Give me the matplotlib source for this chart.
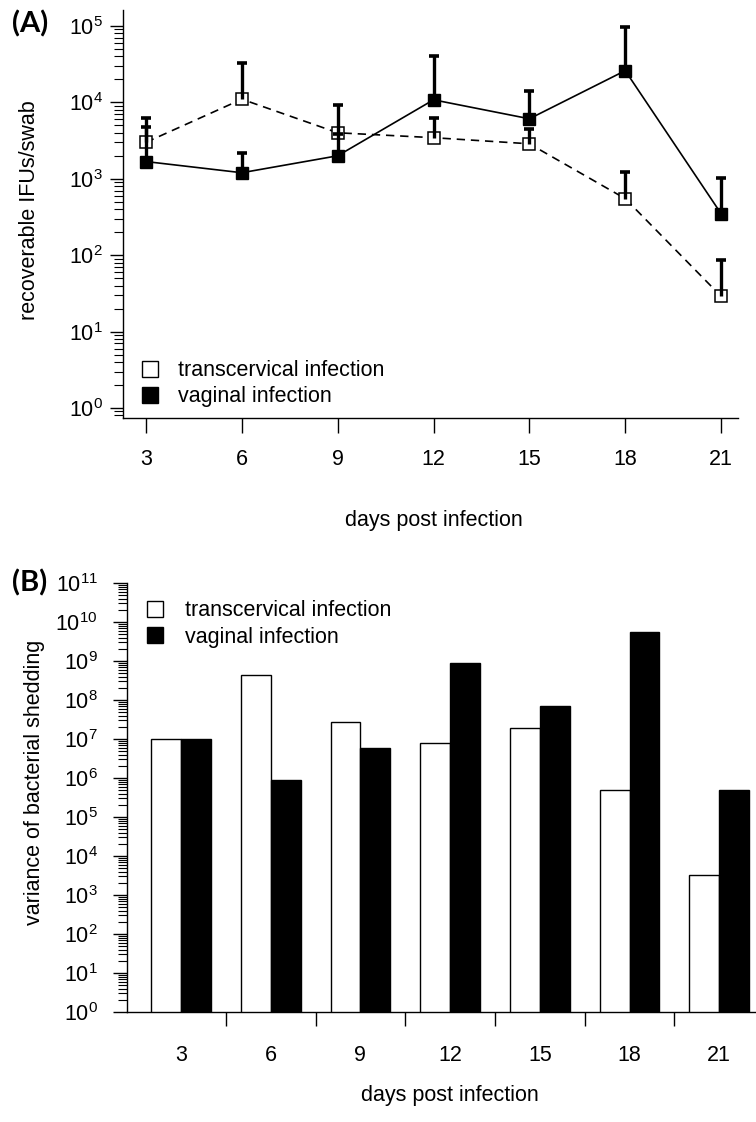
import numpy as np
import matplotlib.pyplot as plt
from matplotlib.lines import Line2D
from matplotlib.ticker import LogLocator, FuncFormatter, NullFormatter

plt.rcParams['font.family'] = ['Liberation Sans', 'DejaVu Sans']
plt.rcParams['mathtext.default'] = 'regular'

days = [3, 6, 9, 12, 15, 18, 21]
labels = ["transcervical infection", "vaginal infection"]

# (A) recoverable IFUs/swab: mean and top of the error bar
tc_mean = [3000, 11000, 4000, 3450, 2870, 550, 29]
tc_upper = [6300, 33000, 9300, 6300, 4500, 1240, 86]
vag_mean = [1680, 1200, 2000, 10800, 6100, 26000, 350]
vag_upper = [4800, 2200, 3800, 40000, 14100, 98000, 1030]

# (B) variance of bacterial shedding
tc_var = [1.0e7, 4.4e8, 2.7e7, 7.9e6, 1.9e7, 4.9e5, 3.2e3]
vag_var = [1.0e7, 9.0e5, 5.8e6, 8.9e8, 7.0e7, 5.5e9, 4.9e5]

FS = 15.5
pow_fmt = FuncFormatter(lambda v, p: r'$10^{%d}$' % round(np.log10(v)))


def log_yaxis(ax, lo, hi, major_len, minor_len, pad):
    ax.set_yscale('log')
    ax.yaxis.set_major_locator(LogLocator(base=10, numticks=20))
    ax.yaxis.set_minor_locator(LogLocator(base=10, subs=np.arange(2, 10), numticks=20))
    ax.yaxis.set_major_formatter(pow_fmt)
    ax.yaxis.set_minor_formatter(NullFormatter())
    ax.set_ylim(lo, hi)
    ax.tick_params(axis='y', which='major', length=major_len, width=1, pad=pad, labelsize=FS)
    ax.tick_params(axis='y', which='minor', length=minor_len, width=0.8)
    for s in ['top', 'right']:
        ax.spines[s].set_visible(False)
    for s in ['left', 'bottom']:
        ax.spines[s].set_linewidth(1)


fig = plt.figure(figsize=(7.56, 11.22), dpi=100)

# ---------------- (A) ----------------
axA = fig.add_axes([123 / 756, 1 - 418 / 1122, 615 / 756, 408 / 1122])
log_yaxis(axA, 10 ** -0.131, 10 ** 5.209, 9.5, 6.5, 5)

axA.plot(days, tc_mean, color='black', lw=1.2, dashes=(5, 3.5), zorder=2)
axA.plot(days, tc_mean, ls='none', marker='s', ms=8.5, mfc='white', mec='black', mew=1.1, zorder=3)
axA.plot(days, vag_mean, color='black', lw=1.2, zorder=2)
axA.plot(days, vag_mean, ls='none', marker='s', ms=8.5, mfc='black', mec='black', zorder=3)

for mean, upper in [(tc_mean, tc_upper), (vag_mean, vag_upper)]:
    axA.vlines(days, mean, upper, color='black', lw=2.4, zorder=4)
    axA.plot(days, upper, ls='none', marker='_', ms=7, mew=2.6, color='black', zorder=4)

axA.set_xlim(2.28, 21.53)
axA.set_xticks(days)
axA.tick_params(axis='x', length=10.5, width=1, pad=12, labelsize=FS)
axA.set_xlabel("days post infection", fontsize=FS)
axA.xaxis.set_label_coords(0.505, -0.225)
axA.set_ylabel("recoverable IFUs/swab", fontsize=FS)
axA.yaxis.set_label_coords(-0.135, 0.51)

hA = [Line2D([], [], ls='none', marker='s', ms=11, mfc='white', mec='black', mew=1),
      Line2D([], [], ls='none', marker='s', ms=11, mfc='black', mec='black', mew=1)]
axA.legend(hA, labels, loc='upper left', bbox_to_anchor=(0.026, 0.142), frameon=False,
           fontsize=FS, handlelength=1.0, handletextpad=0.8, borderpad=0, borderaxespad=0,
           labelspacing=0.25)

fig.text(12 / 756, 1 - 24 / 1122, "(A)", fontsize=21, fontweight='bold', family='Lato',
         ha='left', va='center')

# ---------------- (B) ----------------
axB = fig.add_axes([127 / 756, 1 - 1012 / 1122, 629 / 756, 429 / 1122])
log_yaxis(axB, 1, 1e11, 10, 6.5, 11)

centers = np.arange(len(days)) * 3.0
axB.bar(centers - 0.5, tc_var, width=1, bottom=0, color='white', edgecolor='black', lw=1, zorder=2)
axB.bar(centers + 0.5, vag_var, width=1, bottom=0, color='black', edgecolor='black', lw=1, zorder=2)

axB.set_xlim(-1.806, 19.23)
axB.set_xticks(centers)
axB.set_xticklabels([str(d) for d in days])
axB.set_xticks(centers[:-1] + 1.5, minor=True)
axB.tick_params(axis='x', which='major', length=0, pad=24, labelsize=FS)
axB.tick_params(axis='x', which='minor', length=10, width=1)
axB.set_xlabel("days post infection", fontsize=FS)
axB.xaxis.set_label_coords(0.5135, -0.170)
axB.set_ylabel("variance of bacterial shedding", fontsize=FS)
axB.yaxis.set_label_coords(-0.130, 0.536)

hB = [Line2D([], [], ls='none', marker='s', ms=11, mfc='white', mec='black', mew=1),
      Line2D([], [], ls='none', marker='s', ms=11, mfc='black', mec='black', mew=1)]
axB.legend(hB, labels, loc='upper left', bbox_to_anchor=(0.027, 0.960), frameon=False,
           fontsize=FS, handlelength=1.0, handletextpad=0.9, borderpad=0, borderaxespad=0,
           labelspacing=0.25)

fig.text(12 / 756, 1 - 583 / 1122, "(B)", fontsize=21, fontweight='bold', family='Lato',
         ha='left', va='center')

fig.savefig("out.png", dpi=100)
